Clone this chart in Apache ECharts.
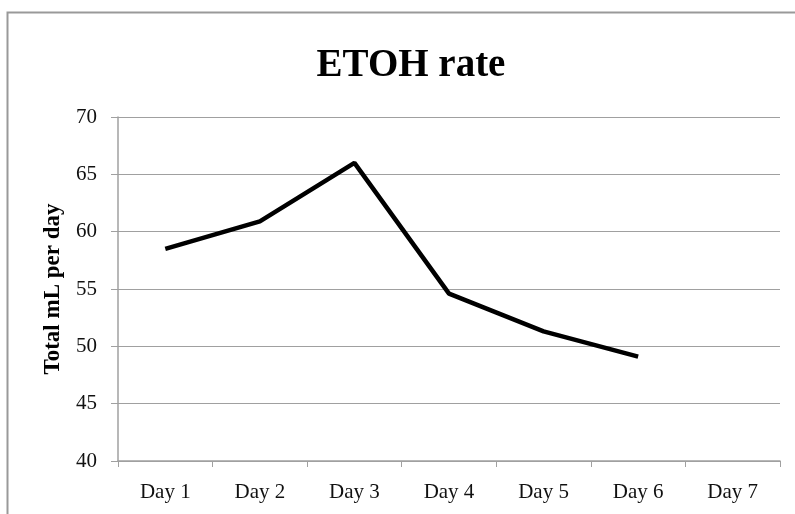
<!DOCTYPE html>
<html><head><meta charset="utf-8">
<script src="https://cdn.jsdelivr.net/npm/echarts@6/dist/echarts.min.js"></script>
<style>html,body{margin:0;padding:0;background:#fff}#c{width:795px;height:514px}</style>
</head><body><div id="c"></div>
<script>
const categories = ['Day 1','Day 2','Day 3','Day 4','Day 5','Day 6','Day 7'];
const etohRate = [58.5, 60.9, 66.0, 54.6, 51.3, 49.1, null];
const titleText = 'ETOH rate';
const yAxisName = 'Total mL per day';

const chart = echarts.init(document.getElementById('c'), null, {renderer:'canvas'});
const font = '"Liberation Serif", "DejaVu Serif", serif';
chart.setOption({
  animation: false,
  backgroundColor: '#fff',
  graphic: [{
    type: 'rect', left: 5, top: 10,
    shape: {width: 820, height: 540},
    style: {fill: 'none', stroke: '#999', lineWidth: 2}
  }],
  title: {
    text: titleText, left: 406, textAlign: 'center', top: 41,
    textStyle: {fontFamily: font, fontWeight: 'bold', fontSize: 39, color: '#000'}
  },
  grid: {left: 118, right: 15, top: 117, bottom: 53},
  xAxis: {
    type: 'category', data: categories, boundaryGap: true,
    axisLine: {lineStyle: {color: '#a0a0a0', width: 1.5}},
    axisTick: {show: true, length: 6, alignWithLabel: false, lineStyle: {color: '#a0a0a0'}},
    axisLabel: {fontFamily: font, fontSize: 21, color: '#111', margin: 21},
    splitLine: {show: false}
  },
  yAxis: {
    type: 'value', min: 40, max: 70, interval: 5,
    name: yAxisName, nameLocation: 'middle', nameGap: 53,
    nameTextStyle: {fontFamily: font, fontWeight: 'bold', fontSize: 23, color: '#000'},
    axisLine: {show: true, lineStyle: {color: '#a0a0a0', width: 1.5}},
    axisTick: {show: true, length: 7, lineStyle: {color: '#a0a0a0'}},
    axisLabel: {fontFamily: font, fontSize: 21, color: '#111', margin: 21},
    splitLine: {lineStyle: {color: '#a0a0a0', width: 1}}
  },
  series: [{
    type: 'line', data: etohRate, showSymbol: false, symbol: 'none',
    lineStyle: {color: '#000', width: 4.5}, connectNulls: false
  }]
});
</script></body></html>
